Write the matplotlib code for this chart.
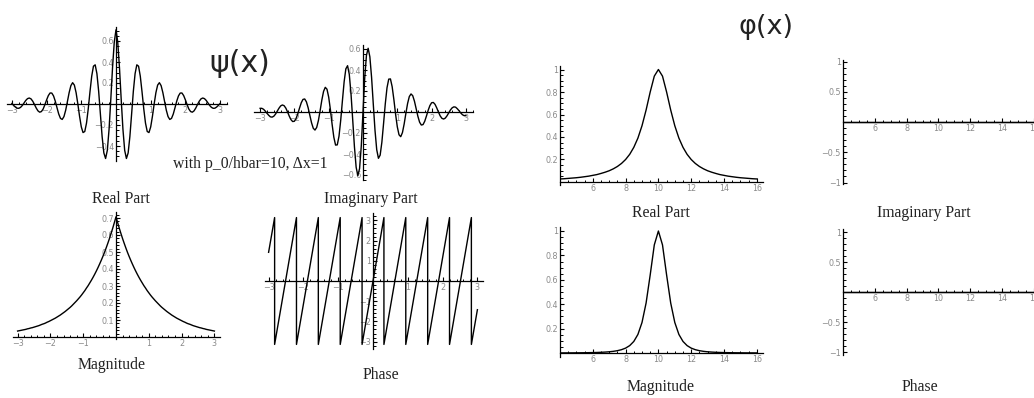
#!/usr/bin/env python
# -*- coding: utf-8 -*-

import numpy as np
import matplotlib
matplotlib.use("Agg")
from matplotlib import pyplot as plt
from matplotlib.ticker import MultipleLocator

W, H = 1034, 398

# psi(x), sampled every 0.05 from -3 to 3
psi_x = np.round(np.arange(-3, 3.0001, 0.05), 2)

psi_real = [
    .005, -.013, -.029, -.040, -.041, -.032, -.014, .010, .034, .051,
    .057, .049, .027, -.004, -.038, -.065, -.078, -.072, -.048, -.007,
    .039, .080, .105, .104, .077, .027, -.036, -.096, -.137, -.147,
    -.120, -.059, .024, .109, .175, .203, .180, .108, .001, -.117,
    -.218, -.272, -.262, -.182, -.046, .116, .265, .360, .373, .289,
    .122, -.095, -.310, -.466, -.519, -.441, -.241, .043, .346, .590,
    .707,
    .590, .346, .043, -.241, -.441, -.519, -.466, -.310, -.095, .122,
    .289, .373, .360, .265, .116, -.046, -.182, -.262, -.272, -.218,
    -.117, .001, .108, .180, .203, .175, .109, .024, -.059, -.120,
    -.147, -.137, -.096, -.036, .027, .077, .104, .105, .080, .039,
    -.007, -.048, -.072, -.078, -.065, -.038, -.004, .027, .049, .057,
    .051, .034, .010, -.014, -.032, -.041, -.040, -.029, -.013, .005,
]

psi_imag = [
    .035, .035, .026, .009, -.012, -.031, -.046, -.049, -.040, -.020,
    .008, .036, .058, .067, .060, .037, .001, -.039, -.073, -.091,
    -.088, -.061, -.016, .038, .088, .120, .124, .097, .041, -.031,
    -.103, -.155, -.172, -.147, -.081, .013, .114, .196, .235, .217,
    .141, .021, -.119, -.241, -.315, -.313, -.231, -.079, .108, .288,
    .411, .441, .359, .175, -.074, -.330, -.526, -.607, -.539, -.323,
    0.0,
    .323, .539, .607, .526, .330, .074, -.175, -.359, -.441, -.411,
    -.288, -.108, .079, .231, .313, .315, .241, .119, -.021, -.141,
    -.217, -.235, -.196, -.114, -.013, .081, .147, .172, .155, .103,
    .031, -.041, -.097, -.124, -.120, -.088, -.038, .016, .061, .088,
    .091, .073, .039, -.001, -.037, -.060, -.067, -.058, -.036, -.008,
    .020, .040, .049, .046, .031, .012, -.009, -.026, -.035, -.035,
]

psi_mag = [
    .035, .037, .039, .041, .043, .045, .048, .050, .053, .055,
    .058, .061, .064, .067, .071, .075, .078, .082, .087, .091,
    .096, .101, .106, .111, .117, .123, .129, .136, .143, .150,
    .158, .166, .174, .183, .193, .203, .213, .224, .235, .247,
    .260, .273, .288, .302, .318, .334, .351, .369, .388, .408,
    .429, .451, .474, .498, .524, .551, .579, .609, .640, .673,
    .707,
    .673, .640, .609, .579, .551, .524, .498, .474, .451, .429,
    .408, .388, .369, .351, .334, .318, .302, .288, .273, .260,
    .247, .235, .224, .213, .203, .193, .183, .174, .166, .158,
    .150, .143, .136, .129, .123, .117, .111, .106, .101, .096,
    .091, .087, .082, .078, .075, .071, .067, .064, .061, .058,
    .055, .053, .050, .048, .045, .043, .041, .039, .037, .035,
]

# phase of psi: vertices of the sawtooth
phase_x = [-3.0, -2.827, -2.827, -2.199, -2.199, -1.571, -1.571, -0.942,
           -0.942, -0.314, -0.314, 0.314, 0.314, 0.942, 0.942, 1.571,
           1.571, 2.199, 2.199, 2.827, 2.827, 3.0]
phase_y = [1.42, 3.14, -3.14, 3.14, -3.14, 3.14, -3.14, 3.14,
           -3.14, 3.14, -3.14, 3.14, -3.14, 3.14, -3.14, 3.14,
           -3.14, 3.14, -3.14, 3.14, -3.14, -1.42]

# phi(p), sampled every 0.25 from 4 to 16
phi_p = np.arange(4, 16.001, 0.25)

phi_real = [
    .027, .029, .032, .035, .038, .042, .047, .052, .059, .066,
    .076, .087, .100, .117, .138, .165, .200, .246, .308, .390,
    .500, .640, .800, .941, 1.0, .941, .800, .640, .500, .390,
    .308, .246, .200, .165, .138, .117, .100, .087, .076, .066,
    .059, .052, .047, .042, .038, .035, .032, .029, .027,
]

phi_mag = [
    .0007, .0009, .0010, .0012, .0015, .0018, .0022, .0028, .0035, .0044,
    .0057, .0075, .0100, .0136, .0190, .0272, .0400, .0606, .0947, .152,
    .250, .410, .640, .886, 1.0, .886, .640, .410, .250, .152,
    .0947, .0606, .0400, .0272, .0190, .0136, .0100, .0075, .0057, .0044,
    .0035, .0028, .0022, .0018, .0015, .0012, .0010, .0009, .0007,
]

phi_imag = [0.0] * 49
phi_phase = [0.0] * 49

# tick labels
psi_xticks = [-3, -2, -1, 1, 2, 3]
real_yticks = [-0.4, -0.2, 0.2, 0.4, 0.6]
imag_yticks = [-0.6, -0.4, -0.2, 0.2, 0.4, 0.6]
mag_yticks = [0.1, 0.2, 0.3, 0.4, 0.5, 0.6, 0.7]
phase_yticks = [-3, -2, -1, 1, 2, 3]
phi_xticks = [6, 8, 10, 12, 14, 16]
phi_yticks = [0.2, 0.4, 0.6, 0.8, 1]
phi_zero_yticks = [-1, -0.5, 0.5, 1]


def fmt(v):
    return ('%g' % v).replace('-', '\u2212')


def make_axes(fig, cross_px, x0, scale, xlim, ylim, xticks, yticks, minor):
    """place an axes so that the point (x0, 0) lands on cross_px"""
    xpx, ypx = cross_px
    sx, sy = scale
    left = xpx - (x0 - xlim[0]) * sx
    right = xpx + (xlim[1] - x0) * sx
    top = ypx - ylim[1] * sy
    bottom = ypx - ylim[0] * sy
    ax = fig.add_axes([left / W, 1 - bottom / H, (right - left) / W, (bottom - top) / H])
    ax.set_xlim(xlim)
    ax.set_ylim(ylim)
    ax.patch.set_visible(False)
    ax.spines['top'].set_visible(False)
    ax.spines['right'].set_visible(False)
    ax.spines['left'].set_position(('data', x0))
    ax.spines['bottom'].set_position(('data', 0))
    ax.spines['left'].set_linewidth(0.9)
    ax.spines['bottom'].set_linewidth(0.9)
    ax.set_xticks(xticks)
    ax.set_xticklabels([fmt(v) for v in xticks])
    ax.set_yticks(yticks)
    ax.set_yticklabels([fmt(v) for v in yticks])
    ax.xaxis.set_minor_locator(MultipleLocator(minor[0]))
    ax.yaxis.set_minor_locator(MultipleLocator(minor[1]))
    ax.tick_params(which='major', direction='in', length=3, width=0.8,
                   color='black', labelcolor='#8a8a8a', labelsize=5.8, pad=1.5)
    ax.tick_params(which='minor', direction='in', length=1.8, width=0.7, color='black')
    for lab in ax.get_xticklabels() + ax.get_yticklabels():
        lab.set_family('DejaVu Sans')
    return ax


def label(fig, x, y, s, **kw):
    fig.text(x / W, 1 - y / H, s, ha='center', va='baseline', **kw)


def main():
    fig = plt.figure(figsize=(W / 100.0, H / 100.0), dpi=100)
    lw = 1.0

    ax = make_axes(fig, (116, 104), 0, (34.7, 105), (-3.14, 3.2), (-0.54, 0.73),
                   psi_xticks, real_yticks, (0.2, 0.05))
    ax.plot(psi_x, psi_real, color='black', lw=lw)

    ax = make_axes(fig, (363, 112), 0, (34.3, 105), (-3.18, 3.2), (-0.65, 0.64),
                   psi_xticks, imag_yticks, (0.2, 0.05))
    ax.plot(psi_x, psi_imag, color='black', lw=lw)

    ax = make_axes(fig, (116, 337), 0, (32.8, 170), (-3.14, 3.17), (-0.01, 0.735),
                   psi_xticks, mag_yticks, (0.2, 0.02))
    ax.plot(psi_x, psi_mag, color='black', lw=lw)

    ax = make_axes(fig, (373, 281), 0, (34.8, 20.2), (-3.1, 3.16), (-3.35, 3.37),
                   psi_xticks, phase_yticks, (0.2, 0.2))
    ax.plot(phase_x, phase_y, color='black', lw=lw)

    ax = make_axes(fig, (560, 182), 4, (16.4, 112.5), (3.98, 16.4), (-0.03, 1.03),
                   phi_xticks, phi_yticks, (0.5, 0.05))
    ax.plot(phi_p, phi_real, color='black', lw=lw)

    ax = make_axes(fig, (843, 122), 4, (15.9, 60.5), (3.98, 16.4), (-1.03, 1.03),
                   phi_xticks, phi_zero_yticks, (0.5, 0.1))
    ax.plot(phi_p, phi_imag, color='black', lw=lw)

    ax = make_axes(fig, (560, 353), 4, (16.4, 122), (3.98, 16.4), (-0.03, 1.03),
                   phi_xticks, phi_yticks, (0.5, 0.05))
    ax.plot(phi_p, phi_mag, color='black', lw=lw)

    ax = make_axes(fig, (843, 292), 4, (15.9, 60), (3.98, 16.4), (-1.05, 1.05),
                   phi_xticks, phi_zero_yticks, (0.5, 0.1))
    ax.plot(phi_p, phi_phase, color='black', lw=lw)

    serif = {'family': 'Liberation Serif', 'size': 11.3, 'color': '#222222'}
    label(fig, 121, 203, 'Real Part', **serif)
    label(fig, 371, 203, 'Imaginary Part', **serif)
    label(fig, 250, 168, 'with p_0/hbar=10, \u0394x=1', **serif)
    label(fig, 112, 369, 'Magnitude', **serif)
    label(fig, 381, 379, 'Phase', **serif)
    label(fig, 661, 217, 'Real Part', **serif)
    label(fig, 924, 217, 'Imaginary Part', **serif)
    label(fig, 661, 391, 'Magnitude', **serif)
    label(fig, 920, 391, 'Phase', **serif)

    label(fig, 240, 72, '\u03c8(x)', family='DejaVu Sans', size=21.5, color='#222222')
    label(fig, 766, 34, '\u03c6(x)', family='DejaVu Sans', size=19.5, color='#222222')

    fig.savefig('out.png', dpi=100)


if __name__ == "__main__":
    main()
